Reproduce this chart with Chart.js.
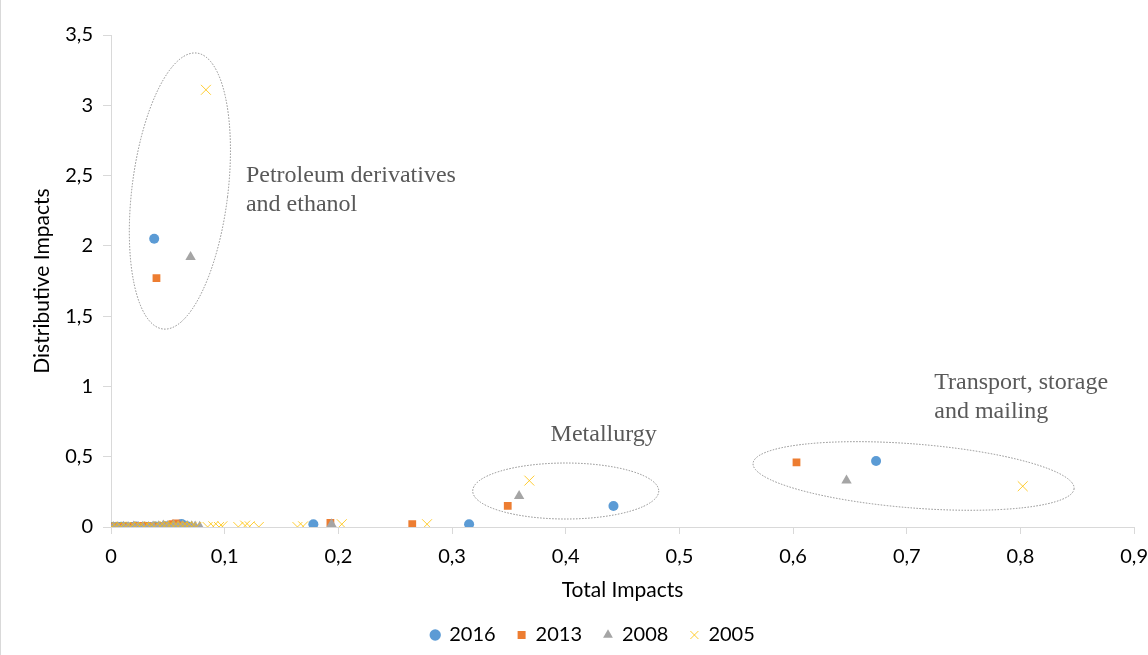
<!DOCTYPE html>
<html>
<head>
<meta charset="utf-8">
<script src="https://cdn.jsdelivr.net/npm/chart.js@4"></script>
<style>
  html, body { margin: 0; padding: 0; background: #fff; overflow: hidden; }
  #wrap { position: relative; width: 1159px; height: 655px; border-left: 1px solid #d9d9d9; box-sizing: border-box; }
</style>
</head>
<body>
<div id="wrap"><canvas id="scatterChart"></canvas></div>
<script>
// Values (Total Impacts / Distributive Impacts)
const x2016 = [0.001, 0.005, 0.009, 0.013, 0.018, 0.022, 0.026, 0.030, 0.034, 0.039, 0.044, 0.048, 0.052, 0.056, 0.060, 0.062, 0.067,
               0.178, 0.315, 0.038, 0.442, 0.673];
const y2016 = [0.000, 0.000, 0.002, 0.000, 0.000, 0.003, 0.000, 0.002, 0.000, 0.004, 0.000, 0.006, 0.003, 0.010, 0.008, 0.022, 0.005,
               0.020, 0.020, 2.050, 0.150, 0.470];

const x2013 = [0.001, 0.004, 0.008, 0.012, 0.017, 0.021, 0.025, 0.029, 0.032, 0.036, 0.041, 0.045, 0.050, 0.054, 0.057, 0.060, 0.065,
               0.193, 0.265, 0.040, 0.349, 0.603];
const y2013 = [0.000, 0.002, 0.000, 0.003, 0.000, 0.005, 0.008, 0.006, 0.004, 0.002, 0.000, 0.005, 0.008, 0.020, 0.025, 0.012, 0.006,
               0.030, 0.020, 1.770, 0.150, 0.460];

const x2008 = [0.002, 0.006, 0.011, 0.015, 0.020, 0.024, 0.028, 0.033, 0.037, 0.042, 0.046, 0.050, 0.055, 0.059, 0.063, 0.067, 0.071, 0.074, 0.078,
               0.194, 0.070, 0.359, 0.647];
const y2008 = [0.000, 0.000, 0.002, 0.000, 0.003, 0.000, 0.002, 0.000, 0.004, 0.006, 0.010, 0.008, 0.012, 0.006, 0.010, 0.008, 0.005, 0.004, 0.002,
               0.020, 1.920, 0.220, 0.330];

const x2005 = [0.001, 0.005, 0.009, 0.013, 0.017, 0.021, 0.025, 0.029, 0.034, 0.038, 0.043, 0.047, 0.051, 0.055, 0.059, 0.063, 0.067, 0.071, 0.075,
               0.085, 0.090, 0.095, 0.098, 0.112, 0.118, 0.122, 0.130, 0.164, 0.169, 0.203, 0.278, 0.0835, 0.368, 0.802];
const y2005 = [0.000, 0.000, 0.003, 0.000, 0.002, 0.000, 0.004, 0.000, 0.003, 0.000, 0.005, 0.008, 0.010, 0.006, 0.004, 0.006, 0.005, 0.002, 0.000,
               0.000, 0.005, 0.000, 0.005, 0.000, 0.010, 0.005, 0.000, 0.000, 0.005, 0.020, 0.020, 3.110, 0.330, 0.290];

const seriesLabels = ['2016', '2013', '2008', '2005'];
const xTicks = [0, 0.1, 0.2, 0.3, 0.4, 0.5, 0.6, 0.7, 0.8, 0.9];
const yTicks = [0, 0.5, 1, 1.5, 2, 2.5, 3, 3.5];

// Grouping notes drawn over the plot (positions in data units)
const groupNames = [['Petroleum derivatives', 'and ethanol'], ['Metallurgy'], ['Transport, storage', 'and mailing']];
const groupLabelAt = [[0.1187, 2.50], [0.3867, 0.66], [0.7242, 1.024]];
const groupCentre = [[0.0606, 2.39], [0.400, 0.256], [0.706, 0.363]];

function pts(xs, ys) {
    return xs.map((x, i) => ({ x: x, y: ys[i] }));
}

function fmt(v) {
    return String(Number(v.toFixed(2))).replace('.', ',');
}

// ellipse sizes in pixels: rx, ry, rotation (deg)
const ellipseSize = [[48, 139, 7], [93, 28, 0], [161, 32, 4.5]];

const groupPlugin = {
    id: 'groups',
    afterDatasetsDraw(chart) {
        const ctx = chart.ctx;
        const xs = chart.scales.x, ys = chart.scales.y;
        ctx.save();
        ctx.strokeStyle = '#8c8c8c';
        ctx.lineWidth = 1;
        ctx.setLineDash([1.5, 1.5]);
        groupCentre.forEach((c, i) => {
            const s = ellipseSize[i];
            ctx.beginPath();
            ctx.ellipse(xs.getPixelForValue(c[0]), ys.getPixelForValue(c[1]), s[0], s[1], s[2] * Math.PI / 180, 0, Math.PI * 2);
            ctx.stroke();
        });
        ctx.setLineDash([]);
        ctx.fillStyle = '#595959';
        ctx.font = '24px "Liberation Serif", serif';
        ctx.textBaseline = 'middle';
        ctx.textAlign = 'left';
        groupNames.forEach((lines, i) => {
            const px = xs.getPixelForValue(groupLabelAt[i][0]);
            const py = ys.getPixelForValue(groupLabelAt[i][1]);
            lines.forEach((t, j) => ctx.fillText(t, px, py + j * 29));
        });
        ctx.restore();
    }
};

const font = 'Lato, "Noto Sans", sans-serif';

const ctx = document.getElementById('scatterChart').getContext('2d');
const scatterChart = new Chart(ctx, {
    type: 'scatter',
    data: {
        datasets: [{
            label: seriesLabels[0],
            data: pts(x2016, y2016),
            order: 3,
            pointStyle: 'circle',
            pointRadius: 5,
            backgroundColor: '#5B9BD5',
            borderColor: '#5B9BD5',
            borderWidth: 0
        }, {
            label: seriesLabels[1],
            data: pts(x2013, y2013),
            order: 2,
            pointStyle: 'rect',
            pointRadius: 5.5,
            backgroundColor: '#ED7D31',
            borderColor: '#ED7D31',
            borderWidth: 0
        }, {
            label: seriesLabels[2],
            data: pts(x2008, y2008),
            order: 1,
            pointStyle: 'triangle',
            pointRadius: 6,
            backgroundColor: '#A5A5A5',
            borderColor: '#A5A5A5',
            borderWidth: 0
        }, {
            label: seriesLabels[3],
            data: pts(x2005, y2005),
            order: 0,
            pointStyle: 'crossRot',
            pointRadius: 7,
            backgroundColor: '#FFC000',
            borderColor: 'rgba(255, 192, 0, 0.8)',
            borderWidth: 1
        }]
    },
    options: {
        responsive: true,
        maintainAspectRatio: false,
        animation: false,
        layout: { padding: { top: 35, left: 26, right: 0, bottom: 0 } },
        plugins: {
            legend: {
                position: 'bottom',
                labels: {
                    usePointStyle: true,
                    boxWidth: 8,
                    boxHeight: 8,
                    padding: 22,
                    color: '#000',
                    font: { family: font, size: 20 },
                    sort: (a, b) => a.datasetIndex - b.datasetIndex
                }
            },
            tooltip: { enabled: false }
        },
        scales: {
            x: {
                type: 'linear',
                min: 0,
                max: 0.9,
                afterBuildTicks: (s) => { s.ticks = xTicks.map(v => ({ value: v })); },
                afterFit: (s) => { s.height = 76; },
                ticks: {
                    callback: fmt,
                    color: '#000',
                    padding: 11,
                    maxRotation: 0,
                    font: { family: font, size: 20 }
                },
                grid: { drawOnChartArea: false, drawTicks: true, tickLength: 7, color: '#d9d9d9' },
                border: { color: '#d9d9d9', width: 1 },
                title: {
                    display: true,
                    text: 'Total Impacts',
                    color: '#000',
                    padding: { top: 0, bottom: 0 },
                    font: { family: font, size: 21 }
                }
            },
            y: {
                type: 'linear',
                min: 0,
                max: 3.5,
                afterBuildTicks: (s) => { s.ticks = yTicks.map(v => ({ value: v })); },
                afterFit: (s) => { s.width = 84; },
                ticks: {
                    callback: fmt,
                    color: '#000',
                    padding: 10,
                    font: { family: font, size: 20 }
                },
                grid: { drawOnChartArea: false, drawTicks: true, tickLength: 8, color: '#d9d9d9' },
                border: { color: '#d9d9d9', width: 1 },
                title: {
                    display: true,
                    text: 'Distributive Impacts',
                    color: '#000',
                    padding: { top: 3, bottom: 0 },
                    font: { family: font, size: 21 }
                }
            }
        }
    },
    plugins: [groupPlugin]
});
</script>
</body>
</html>
